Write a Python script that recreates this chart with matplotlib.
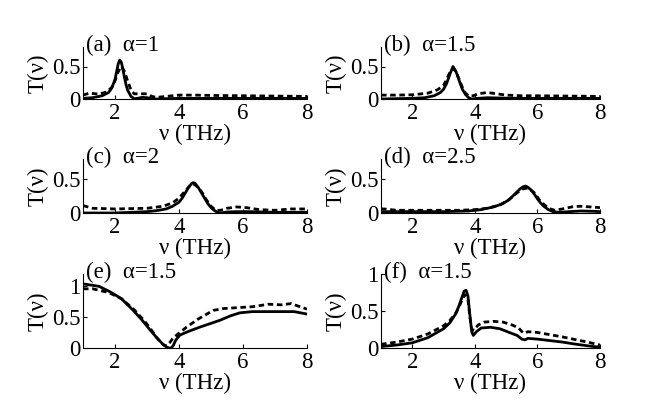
import matplotlib
matplotlib.use("Agg")
import matplotlib.pyplot as plt

plt.rcParams['font.family'] = ['Liberation Serif', 'DejaVu Serif']
plt.rcParams['font.size'] = 16.5

# ---------------- data ----------------
a_sol_x = [1.0, 1.3, 1.6, 1.8, 1.9, 2.0, 2.05, 2.1, 2.15, 2.2, 2.25, 2.3, 2.35, 2.4, 2.5, 2.6, 2.7, 2.85, 3.0, 3.15, 3.3, 3.6, 4.0, 5.0, 6.0, 7.0, 8.0]
a_sol_y = [0.01, 0.02, 0.05, 0.1, 0.17, 0.3, 0.42, 0.54, 0.6, 0.56, 0.45, 0.32, 0.21, 0.13, 0.04, 0.005, 0.01, 0.025, 0.02, 0.005, 0.0, 0.005, 0.01, 0.01, 0.01, 0.01, 0.01]
a_das_x = [1.0, 1.2, 1.5, 1.75, 1.9, 2.0, 2.1, 2.2, 2.3, 2.4, 2.5, 2.6, 2.8, 3.0, 3.15, 3.3, 3.6, 4.0, 4.5, 5.0, 6.0, 7.0, 8.0]
a_das_y = [0.06, 0.09, 0.075, 0.11, 0.18, 0.28, 0.42, 0.5, 0.42, 0.27, 0.14, 0.08, 0.08, 0.08, 0.04, 0.025, 0.04, 0.06, 0.06, 0.055, 0.05, 0.045, 0.04]

b_sol_x = [1.0, 1.5, 2.0, 2.4, 2.7, 2.9, 3.0, 3.1, 3.2, 3.3, 3.4, 3.5, 3.6, 3.7, 3.8, 3.9, 4.1, 4.4, 4.8, 5.5, 6.5, 8.0]
b_sol_y = [0.0, 0.005, 0.01, 0.02, 0.05, 0.1, 0.15, 0.24, 0.38, 0.5, 0.42, 0.28, 0.15, 0.07, 0.02, 0.0, 0.01, 0.02, 0.015, 0.01, 0.01, 0.01]
b_das_x = [1.0, 1.5, 2.0, 2.5, 2.8, 3.0, 3.1, 3.2, 3.3, 3.4, 3.5, 3.6, 3.7, 3.8, 3.95, 4.1, 4.4, 4.7, 5.0, 5.5, 6.0, 7.0, 8.0]
b_das_y = [0.06, 0.06, 0.065, 0.09, 0.14, 0.21, 0.3, 0.41, 0.47, 0.42, 0.3, 0.18, 0.09, 0.05, 0.05, 0.08, 0.1, 0.08, 0.06, 0.05, 0.05, 0.045, 0.04]

c_sol_x = [1.0, 2.0, 3.0, 3.3, 3.6, 3.8, 4.0, 4.1, 4.2, 4.3, 4.4, 4.45, 4.5, 4.6, 4.7, 4.8, 4.9, 5.0, 5.1, 5.2, 5.3, 5.5, 5.8, 6.2, 7.0, 8.0]
c_sol_y = [0.0, 0.0, 0.02, 0.035, 0.06, 0.1, 0.16, 0.22, 0.3, 0.38, 0.44, 0.45, 0.44, 0.38, 0.3, 0.22, 0.14, 0.08, 0.04, 0.01, 0.0, 0.015, 0.02, 0.02, 0.01, 0.01]
c_das_x = [1.0, 1.3, 2.0, 3.0, 3.5, 3.8, 4.0, 4.2, 4.35, 4.45, 4.55, 4.7, 4.85, 5.0, 5.15, 5.3, 5.5, 5.8, 6.1, 6.5, 7.0, 7.5, 8.0]
c_das_y = [0.11, 0.07, 0.06, 0.07, 0.1, 0.15, 0.22, 0.33, 0.41, 0.43, 0.4, 0.32, 0.2, 0.1, 0.04, 0.04, 0.07, 0.09, 0.08, 0.05, 0.04, 0.06, 0.06]

d_sol_x = [1.0, 2.0, 3.0, 3.8, 4.2, 4.6, 4.9, 5.1, 5.3, 5.45, 5.55, 5.62, 5.7, 5.8, 5.9, 6.0, 6.1, 6.2, 6.35, 6.5, 6.7, 7.0, 7.4, 7.8, 8.0]
d_sol_y = [0.02, 0.02, 0.02, 0.03, 0.05, 0.09, 0.14, 0.2, 0.29, 0.36, 0.39, 0.4, 0.38, 0.34, 0.28, 0.21, 0.15, 0.1, 0.05, 0.02, 0.01, 0.02, 0.03, 0.025, 0.02]
d_das_x = [1.0, 1.1, 1.5, 2.5, 3.5, 4.0, 4.4, 4.8, 5.1, 5.35, 5.55, 5.7, 5.9, 6.1, 6.35, 6.55, 6.8, 7.1, 7.35, 7.7, 8.0]
d_das_y = [0.06, 0.06, 0.04, 0.04, 0.04, 0.05, 0.07, 0.12, 0.2, 0.3, 0.36, 0.37, 0.3, 0.17, 0.07, 0.04, 0.06, 0.09, 0.1, 0.09, 0.08]

e_sol_x = [1.0, 1.5, 1.85, 2.2, 2.57, 2.85, 3.1, 3.3, 3.5, 3.6, 3.68, 3.76, 3.82, 3.9, 4.03, 4.3, 4.66, 5.0, 5.28, 5.6, 5.9, 6.3, 7.0, 7.6, 8.0]
e_sol_y = [1.04, 1.0, 0.91, 0.8, 0.61, 0.45, 0.29, 0.17, 0.06, 0.02, 0.0, 0.0, 0.04, 0.13, 0.21, 0.27, 0.34, 0.4, 0.45, 0.52, 0.57, 0.59, 0.59, 0.59, 0.55]
e_das_x = [1.0, 1.3, 1.8, 2.2, 2.6, 2.9, 3.1, 3.3, 3.45, 3.55, 3.62, 3.7, 3.8, 3.95, 4.24, 4.6, 5.07, 5.4, 5.7, 6.3, 6.8, 7.2, 7.5, 8.0]
e_das_y = [0.96, 0.96, 0.9, 0.8, 0.62, 0.45, 0.32, 0.17, 0.08, 0.04, 0.04, 0.08, 0.15, 0.22, 0.34, 0.47, 0.61, 0.64, 0.65, 0.67, 0.71, 0.7, 0.72, 0.63]

f_sol_x = [1.0, 1.5, 2.0, 2.5, 3.0, 3.2, 3.4, 3.5, 3.6, 3.66, 3.72, 3.78, 3.84, 3.9, 3.95, 4.05, 4.2, 4.5, 4.8, 5.1, 5.35, 5.5, 5.6, 5.7, 6.0, 6.4, 6.8, 7.25, 7.6, 8.0]
f_sol_y = [0.02, 0.04, 0.07, 0.14, 0.26, 0.34, 0.47, 0.58, 0.7, 0.77, 0.78, 0.7, 0.45, 0.22, 0.17, 0.22, 0.27, 0.28, 0.26, 0.21, 0.17, 0.12, 0.11, 0.13, 0.12, 0.1, 0.08, 0.05, 0.03, 0.01]
f_das_x = [1.0, 1.5, 2.0, 2.5, 3.0, 3.2, 3.4, 3.5, 3.6, 3.66, 3.72, 3.78, 3.84, 3.9, 3.98, 4.1, 4.3, 4.6, 4.9, 5.2, 5.4, 5.55, 5.7, 6.0, 6.4, 6.8, 7.25, 7.6, 8.0]
f_das_y = [0.05, 0.08, 0.12, 0.19, 0.3, 0.37, 0.48, 0.56, 0.66, 0.71, 0.72, 0.65, 0.42, 0.25, 0.24, 0.31, 0.35, 0.36, 0.35, 0.31, 0.27, 0.2, 0.22, 0.21, 0.18, 0.15, 0.11, 0.08, 0.04]

panel_labels = ["(a)  α=1", "(b)  α=1.5", "(c)  α=2", "(d)  α=2.5", "(e)  α=1.5", "(f)  α=1.5"]
x_ticks = [2, 4, 6, 8]
x_tick_labels = ["2", "4", "6", "8"]
y_ticks_small = [0, 0.5]
y_tick_labels_small = ["0", "0.5"]
y_ticks_big = [0, 0.5, 1]
y_tick_labels_big = ["0", "0.5", "1"]
x_label = "ν (THz)"
y_label = "T(ν)"

# ---------------- layout ----------------
W, H = 664, 408
fig = plt.figure(figsize=(W / 100, H / 100), dpi=100)

cols = [(83, 307), (381, 600)]
rows = [(47, 99), (159, 213), (274, 348)]
ylims = [0.8, 0.8, 0.8, 0.8, 1.2, 1.0]

series = [
    (a_sol_x, a_sol_y, a_das_x, a_das_y),
    (b_sol_x, b_sol_y, b_das_x, b_das_y),
    (c_sol_x, c_sol_y, c_das_x, c_das_y),
    (d_sol_x, d_sol_y, d_das_x, d_das_y),
    (e_sol_x, e_sol_y, e_das_x, e_das_y),
    (f_sol_x, f_sol_y, f_das_x, f_das_y),
]

for i, (sx, sy, dx, dy) in enumerate(series):
    r, c = divmod(i, 2)
    l, rr = cols[c]
    t, b = rows[r]
    ax = fig.add_axes([l / W, 1 - b / H, (rr - l) / W, (b - t) / H])
    ax.plot(sx, sy, color='black', lw=2.0, solid_joinstyle='round')
    ax.plot(dx, dy, color='black', lw=2.0, linestyle=(0, (2.0, 1.3)))
    ax.set_xlim(1, 8)
    ax.set_ylim(0, ylims[i])
    ax.set_xticks(x_ticks)
    ax.set_xticklabels(x_tick_labels)
    if r == 2:
        ax.set_yticks(y_ticks_big)
        ax.set_yticklabels(y_tick_labels_big)
    else:
        ax.set_yticks(y_ticks_small)
        ax.set_yticklabels(y_tick_labels_small)
    for side in ['top', 'right']:
        ax.spines[side].set_visible(False)
    for side in ['left', 'bottom']:
        ax.spines[side].set_linewidth(0.8)
    ax.tick_params(direction='in', length=3, width=0.8)
    ax.tick_params(axis='x', pad=3)
    ax.tick_params(axis='y', pad=2)
    ax.set_xlabel(x_label, labelpad=0)
    ax.set_ylabel(y_label, labelpad=2)
    ax.annotate(panel_labels[i], xy=(0, 1), xycoords='axes fraction',
                xytext=(3, -4), textcoords='offset pixels',
                ha='left', va='baseline')

fig.savefig("out.png", dpi=100)
